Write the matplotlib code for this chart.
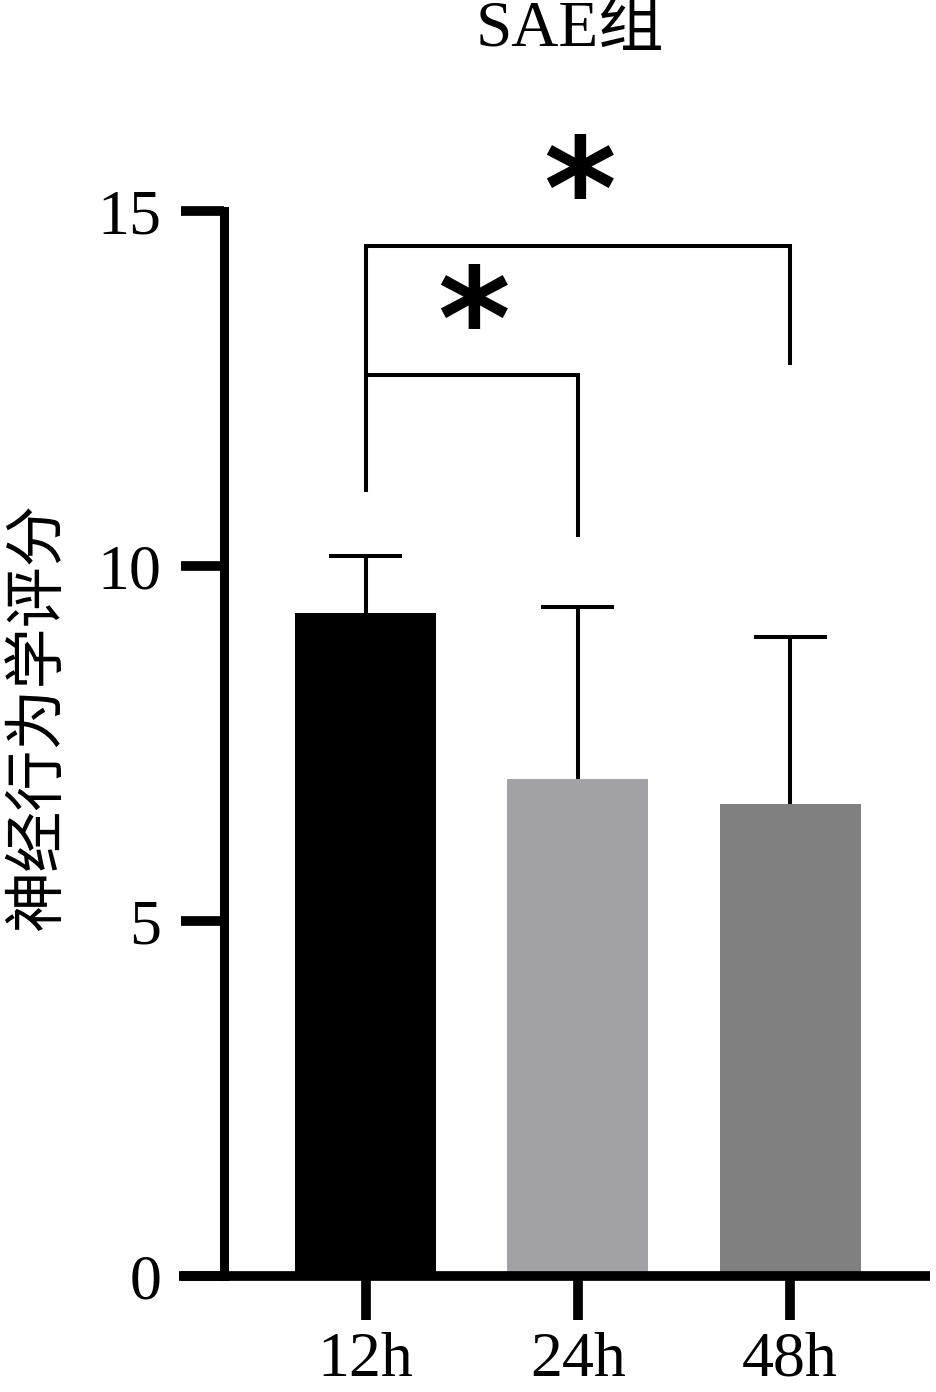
import numpy as np
import matplotlib
matplotlib.use('Agg')
import matplotlib.pyplot as plt

# data
groups = ['12h', '24h', '48h']
means = [9.34, 7.00, 6.65]
err_up = [0.80, 2.42, 2.35]
bar_colors = ['#000000', '#a2a2a6', '#808080']

# significance brackets: (left bar, right bar, left leg bottom, right leg bottom, top, label)
brackets = [
    (0, 1, 11.04, 10.41, 12.69, '*'),
    (0, 2, 12.69, 12.83, 14.51, '*'),
]
star_pos = [(0.51, 13.33), (1.01, 15.16)]

serif = ['Liberation Serif', 'Noto Sans CJK SC']
cjk = ['Noto Sans CJK SC', 'DejaVu Sans']

fig = plt.figure(figsize=(9.36, 13.92), dpi=100)
ax = fig.add_axes([0.1912, 0.0833, 0.8024, 0.7651])

x = np.arange(len(groups))
ax.bar(x, means, width=0.665, color=bar_colors, zorder=2)

# one-sided (upper) error bars
tops = np.array(means) + np.array(err_up)
ax.vlines(x, means, tops, color='black', lw=2.9, zorder=3)
ax.hlines(tops, x - 0.172, x + 0.172, color='black', lw=2.9, zorder=3)

# brackets
for (a, b, lb, rb, top, lab), (sx, sy) in zip(brackets, star_pos):
    ax.plot([a, a, b, b], [lb, top, top, rb], color='black', lw=2.9,
            solid_joinstyle='miter', solid_capstyle='butt', clip_on=False, zorder=4)
    ax.text(sx, sy, lab, ha='center', va='center', fontsize=100,
            fontweight='bold', family='DejaVu Sans', clip_on=False)

ax.set_xlim(-0.879, 2.659)
ax.set_ylim(0, 15)

for s in ['top', 'right']:
    ax.spines[s].set_visible(False)
ax.spines['left'].set_position(('data', -0.667))
ax.spines['left'].set_bounds(0, 15)
ax.spines['left'].set_linewidth(6.5)
ax.spines['bottom'].set_linewidth(7)
ax.spines['bottom'].set_capstyle('butt')
ax.spines['bottom'].set_zorder(5)

ax.set_yticks([0, 5, 10, 15])
ax.set_xticks(x)
ax.set_xticklabels(groups)
ax.tick_params(axis='y', direction='out', length=31, width=7, pad=14,
               labelsize=46)
ax.tick_params(axis='x', direction='out', length=32, width=7, pad=8,
               labelsize=46)
for lbl in ax.get_xticklabels() + ax.get_yticklabels():
    lbl.set_family(serif)

fig.text(38 / 936, 1 - 717 / 1392, '神经行为学评分', rotation=90,
         ha='center', va='center', family=cjk, fontsize=44)

fig.text(570 / 936, 1 - 30 / 1392, 'SAE组', ha='center', va='center',
         fontsize=47, family=serif)

fig.savefig('out.png', dpi=100)
